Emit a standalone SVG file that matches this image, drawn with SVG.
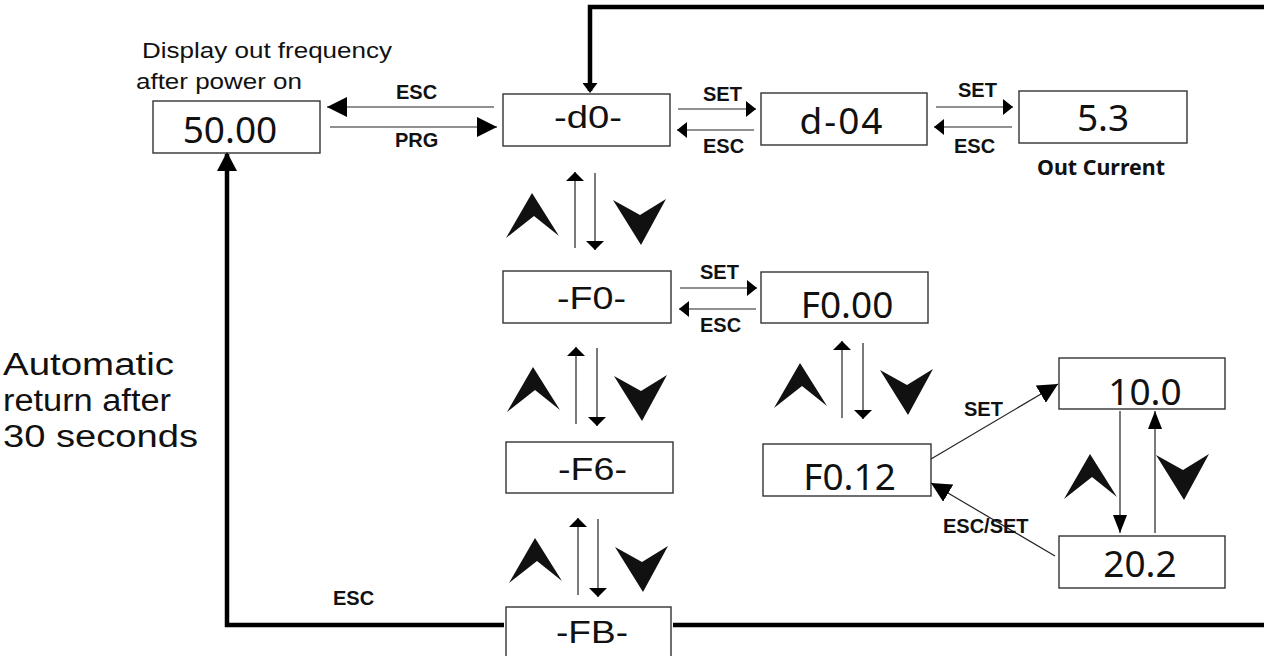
<svg xmlns="http://www.w3.org/2000/svg" width="1264" height="656" viewBox="0 0 1264 656">
  <style>
    .box { fill: #fff; stroke: #333; stroke-width: 1.4; }
    .num { font-family: "Noto Sans", "Open Sans", sans-serif; font-size: 37px; fill: #111; text-anchor: middle; }
    .code { font-family: "Liberation Sans", Arial, sans-serif; font-size: 31px; fill: #111; text-anchor: middle; }
    .lbl { font-family: "Liberation Sans", Arial, sans-serif; font-size: 20px; font-weight: bold; fill: #111; }
    .note { font-family: "Liberation Sans", Arial, sans-serif; fill: #111; }
    .thin { fill: none; stroke: #222; stroke-width: 1.2; }
    .thick { fill: none; stroke: #000; stroke-width: 4.5; }
    .chev { fill: #111; }
  </style>
  <defs>
    <marker id="ah-s" markerUnits="userSpaceOnUse" viewBox="0 0 10 16" markerWidth="10" markerHeight="16" refX="10" refY="8" orient="auto">
      <path d="M0,0 L10,8 L0,16 Z" fill="#000"/>
    </marker>
    <marker id="ah-v" markerUnits="userSpaceOnUse" viewBox="0 0 9 18" markerWidth="9" markerHeight="18" refX="9" refY="9" orient="auto">
      <path d="M0,0 L9,9 L0,18 Z" fill="#000"/>
    </marker>
    <marker id="ah-l" markerUnits="userSpaceOnUse" viewBox="0 0 20 20" markerWidth="20" markerHeight="20" refX="20" refY="10" orient="auto">
      <path d="M0,0 L20,10 L0,20 Z" fill="#000"/>
    </marker>
    <marker id="ah-m" markerUnits="userSpaceOnUse" viewBox="0 0 18 14" markerWidth="18" markerHeight="14" refX="18" refY="7" orient="auto">
      <path d="M0,0 L18,7 L0,14 Z" fill="#000"/>
    </marker>
    <marker id="ah-t" markerUnits="userSpaceOnUse" viewBox="0 0 10 15" markerWidth="10" markerHeight="15" refX="8" refY="7.5" orient="auto">
      <path d="M0,0 L10,7.5 L0,15 Z" fill="#000"/>
    </marker>
    <marker id="ah-b" markerUnits="userSpaceOnUse" viewBox="0 0 19 20" markerWidth="19" markerHeight="20" refX="17" refY="10" orient="auto">
      <path d="M0,0 L19,10 L0,20 Z" fill="#000"/>
    </marker>
    <path id="chev-up" class="chev" d="M0,0 L27,43 L2,23 L-26,45 Z"/>
    <path id="chev-down" class="chev" d="M0,0 L-28,-45 L-1,-30 L25,-46 Z"/>
  </defs>

  <!-- free texts -->
  <text class="note" x="142" y="58" font-size="22" textLength="250" lengthAdjust="spacingAndGlyphs">Display out frequency</text>
  <text class="note" x="136" y="89" font-size="22" textLength="166" lengthAdjust="spacingAndGlyphs">after power on</text>
  <text class="note" x="3" y="375" font-size="31" textLength="171" lengthAdjust="spacingAndGlyphs">Automatic</text>
  <text class="note" x="3" y="411" font-size="31" textLength="168" lengthAdjust="spacingAndGlyphs">return after</text>
  <text class="note" x="3" y="447" font-size="31" textLength="195" lengthAdjust="spacingAndGlyphs">30 seconds</text>

  <!-- nodes -->
  <g id="n-5000">
    <rect class="box" x="153" y="101" width="167" height="52"/>
    <text class="num" x="230" y="143" font-size="38">50.00</text>
  </g>
  <g id="n-d0">
    <rect class="box" x="503" y="94" width="167" height="52"/>
    <text class="code" x="588" y="128" textLength="68" lengthAdjust="spacingAndGlyphs">-d0-</text>
  </g>
  <g id="n-d04">
    <rect class="box" x="761" y="93" width="166" height="52"/>
    <text class="num" x="842" y="134" letter-spacing="2">d-04</text>
  </g>
  <g id="n-53">
    <rect class="box" x="1019" y="91" width="168" height="52"/>
    <text class="num" x="1103" y="131">5.3</text>
    <text x="1037" y="175" font-family="'Noto Sans', 'Open Sans', sans-serif" font-size="21" font-weight="bold" fill="#111" textLength="128" lengthAdjust="spacingAndGlyphs">Out Current</text>
  </g>
  <g id="n-f0">
    <rect class="box" x="503" y="271" width="168" height="52"/>
    <text class="code" x="591.5" y="309" textLength="69" lengthAdjust="spacingAndGlyphs">-F0-</text>
  </g>
  <g id="n-f000">
    <rect class="box" x="761" y="272" width="167" height="51"/>
    <text class="num" x="847" y="318">F0.00</text>
  </g>
  <g id="n-f6">
    <rect class="box" x="506" y="442" width="167" height="51"/>
    <text class="code" x="592.5" y="480" textLength="69" lengthAdjust="spacingAndGlyphs">-F6-</text>
  </g>
  <g id="n-f012">
    <rect class="box" x="763" y="444" width="168" height="52"/>
    <text class="num" x="849.5" y="490">F0.12</text>
  </g>
  <g id="n-100">
    <rect class="box" x="1059" y="358" width="166" height="51"/>
    <text class="num" x="1145" y="405">10.0</text>
  </g>
  <g id="n-202">
    <rect class="box" x="1059" y="536" width="166" height="52"/>
    <text class="num" x="1140" y="577">20.2</text>
  </g>
  <g id="n-fb">
    <rect class="box" x="506" y="607" width="165" height="60"/>
    <text class="code" x="592" y="643" textLength="72" lengthAdjust="spacingAndGlyphs">-FB-</text>
  </g>

  <!-- connectors -->
  <g id="connectors">
    <!-- thick loop -->
    <path class="thick" d="M1264,7 H590 V91" marker-end="url(#ah-t)"/>
    <path class="thick" d="M504,625 H227 V154" marker-end="url(#ah-b)"/>
    <path class="thick" d="M673,625 H1264"/>

    <!-- 50.00 <-> -d0- -->
    <line class="thin" x1="494" y1="107" x2="327" y2="107" marker-end="url(#ah-l)"/>
    <line class="thin" x1="330" y1="127" x2="497" y2="127" marker-end="url(#ah-l)"/>

    <!-- -d0- <-> d-04 -->
    <line class="thin" x1="678" y1="109" x2="756" y2="109" marker-end="url(#ah-s)"/>
    <line class="thin" x1="754" y1="130" x2="677" y2="130" marker-end="url(#ah-s)"/>

    <!-- d-04 <-> 5.3 -->
    <line class="thin" x1="936" y1="107" x2="1013" y2="107" marker-end="url(#ah-s)"/>
    <line class="thin" x1="1012" y1="127" x2="934" y2="127" marker-end="url(#ah-s)"/>

    <!-- -F0- <-> F0.00 -->
    <line class="thin" x1="680" y1="288" x2="757" y2="288" marker-end="url(#ah-s)"/>
    <line class="thin" x1="756" y1="309" x2="679" y2="309" marker-end="url(#ah-s)"/>

    <!-- vertical up/down pairs -->
    <line class="thin" x1="575" y1="248" x2="575" y2="172" marker-end="url(#ah-v)"/>
    <line class="thin" x1="595" y1="173" x2="595" y2="250" marker-end="url(#ah-v)"/>
    <line class="thin" x1="576" y1="424" x2="576" y2="347" marker-end="url(#ah-v)"/>
    <line class="thin" x1="597" y1="348" x2="597" y2="426" marker-end="url(#ah-v)"/>
    <line class="thin" x1="578" y1="595" x2="578" y2="518" marker-end="url(#ah-v)"/>
    <line class="thin" x1="598" y1="519" x2="598" y2="597" marker-end="url(#ah-v)"/>
    <line class="thin" x1="842" y1="418" x2="842" y2="341" marker-end="url(#ah-v)"/>
    <line class="thin" x1="863" y1="343" x2="863" y2="419" marker-end="url(#ah-v)"/>

    <!-- 10.0 <-> 20.2 -->
    <line class="thin" x1="1120" y1="411" x2="1120" y2="533" marker-end="url(#ah-m)"/>
    <line class="thin" x1="1155" y1="533" x2="1155" y2="411" marker-end="url(#ah-m)"/>

    <!-- diagonals -->
    <line class="thin" x1="931" y1="459" x2="1058" y2="384" marker-end="url(#ah-l)"/>
    <line class="thin" x1="1055" y1="556" x2="931" y2="483" marker-end="url(#ah-l)"/>

    <!-- key chevrons -->
    <use href="#chev-up" x="532" y="193"/>
    <use href="#chev-down" x="641" y="245"/>
    <use href="#chev-up" x="533" y="367"/>
    <use href="#chev-down" x="642" y="421"/>
    <use href="#chev-up" x="535" y="538"/>
    <use href="#chev-down" x="643" y="592"/>
    <use href="#chev-up" x="800" y="363"/>
    <use href="#chev-down" x="908" y="415"/>
    <use href="#chev-up" x="1090" y="454"/>
    <use href="#chev-down" x="1184" y="500"/>

    <!-- labels -->
    <text class="lbl" x="396" y="99">ESC</text>
    <text class="lbl" x="395" y="147">PRG</text>
    <text class="lbl" x="703" y="101">SET</text>
    <text class="lbl" x="703" y="153">ESC</text>
    <text class="lbl" x="958" y="97">SET</text>
    <text class="lbl" x="954" y="153">ESC</text>
    <text class="lbl" x="700" y="279">SET</text>
    <text class="lbl" x="700" y="332">ESC</text>
    <text class="lbl" x="964" y="416">SET</text>
    <text class="lbl" x="943" y="533">ESC/SET</text>
    <text class="lbl" x="333" y="605">ESC</text>
  </g>
</svg>
